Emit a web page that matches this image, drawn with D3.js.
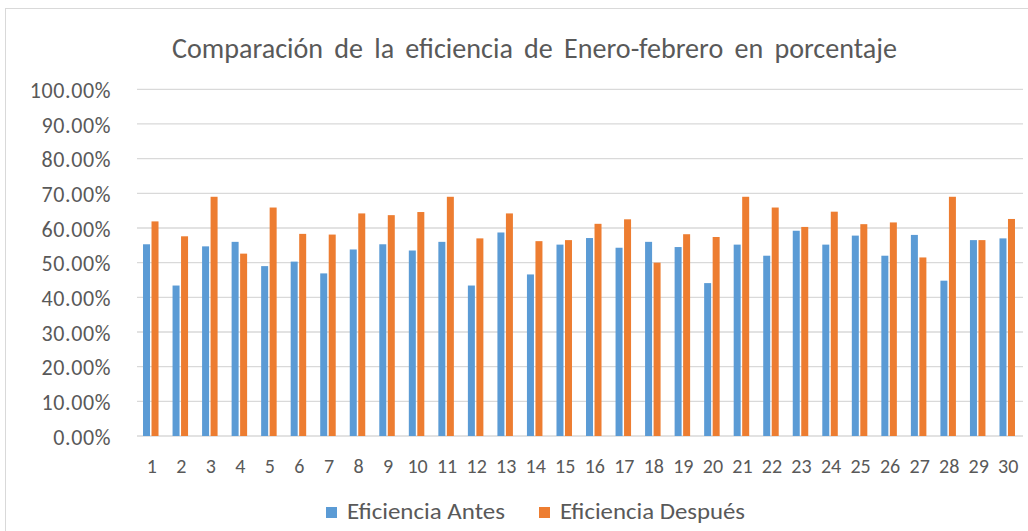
<!DOCTYPE html>
<html>
<head>
<meta charset="utf-8">
<script src="https://cdn.jsdelivr.net/npm/d3@7"></script>
<style>
  body { margin: 0; background: #fff; }
  svg { display: block; }
</style>
</head>
<body>
<svg id="chart" width="1028" height="531"></svg>
<script>
// data
const days = d3.range(1, 31).map(String);
const antes = [55.3, 43.4, 54.7, 56.0, 49.0, 50.3, 46.9, 53.8, 55.3, 53.5,
               56.0, 43.4, 58.7, 46.6, 55.2, 57.1, 54.3, 56.0, 54.5, 44.1,
               55.2, 52.0, 59.2, 55.2, 57.8, 52.0, 58.0, 44.8, 56.5, 57.0];
const despues = [61.9, 57.6, 69.0, 52.6, 65.9, 58.3, 58.1, 64.2, 63.7, 64.6,
                 69.0, 57.0, 64.2, 56.2, 56.5, 61.2, 62.5, 50.0, 58.2, 57.4,
                 69.0, 65.9, 60.3, 64.7, 61.1, 61.6, 51.5, 69.0, 56.5, 62.6];
const seriesNames = ["Eficiencia Antes", "Eficiencia Después"];
const yTicks = [0, 10, 20, 30, 40, 50, 60, 70, 80, 90, 100];

const colors = ["#5B9BD5", "#ED7D31"];
const textColor = "#595959";
const font = "Calibri, Carlito, 'Liberation Sans', sans-serif";

const svg = d3.select("#chart");

// outer chart border
svg.append("rect")
  .attr("x", 5.5).attr("y", 8.5)
  .attr("width", 1040).attr("height", 540)
  .attr("fill", "none")
  .attr("stroke", "#D9D9D9");

const plot = { left: 137, right: 1023, top: 89.3, bottom: 436 };

const x = d3.scaleBand().domain(days).range([plot.left, plot.right]);
const y = d3.scaleLinear().domain([0, 100]).range([plot.bottom, plot.top]);

// gridlines
svg.append("g")
  .selectAll("line")
  .data(yTicks)
  .join("line")
  .attr("x1", plot.left).attr("x2", plot.right)
  .attr("y1", d => y(d)).attr("y2", d => y(d))
  .attr("stroke", "#D9D9D9")
  .attr("stroke-width", 1.3);

// y axis labels
const yAxis = d3.axisLeft(y).tickValues(yTicks).tickSize(0).tickPadding(0)
  .tickFormat(d => d.toFixed(2) + "%");
svg.append("g")
  .attr("transform", `translate(111,1)`)
  .call(yAxis)
  .call(g => g.select(".domain").remove())
  .selectAll("text")
  .attr("fill", textColor)
  .style("font-family", font)
  .style("font-size", "22px")
  .style("letter-spacing", "0.6px");

// x axis labels
const xAxis = d3.axisBottom(x).tickSize(0).tickPadding(0);
svg.append("g")
  .attr("transform", `translate(0,${plot.bottom + 23})`)
  .call(xAxis)
  .call(g => g.select(".domain").remove())
  .selectAll("text")
  .attr("fill", textColor)
  .style("font-family", font)
  .style("font-size", "20px");

// bars
const barW = 7, gap = 1.5;
const rows = days.map((d, i) => ({ day: d, vals: [antes[i], despues[i]] }));
const groups = svg.append("g")
  .selectAll("g")
  .data(rows)
  .join("g")
  .attr("transform", d => `translate(${x(d.day) + x.bandwidth() / 2 - 1},0)`);

groups.selectAll("rect")
  .data(d => d.vals)
  .join("rect")
  .attr("x", (d, i) => i === 0 ? -barW - gap / 2 : gap / 2)
  .attr("width", barW)
  .attr("y", d => y(d))
  .attr("height", d => plot.bottom - y(d))
  .attr("fill", (d, i) => colors[i]);

// title
svg.append("text")
  .attr("x", 172).attr("y", 58)
  .attr("textLength", 725)
  .attr("lengthAdjust", "spacingAndGlyphs")
  .attr("fill", textColor)
  .style("font-family", font)
  .style("font-size", "29px")
  .style("word-spacing", "5px")
  .text("Comparación de la eficiencia de Enero-febrero  en porcentaje");

// legend
const legendX = [326, 539];
const legendW = [158, 185];
const legend = svg.append("g")
  .selectAll("g")
  .data(seriesNames)
  .join("g")
  .attr("transform", (d, i) => `translate(${legendX[i]},507)`);

legend.append("rect")
  .attr("width", 11).attr("height", 11)
  .attr("fill", (d, i) => colors[i]);

legend.append("text")
  .attr("x", 21).attr("y", 12)
  .attr("textLength", (d, i) => legendW[i])
  .attr("lengthAdjust", "spacingAndGlyphs")
  .attr("fill", textColor)
  .style("font-family", font)
  .style("font-size", "22px")
  .text(d => d);
</script>
</body>
</html>
